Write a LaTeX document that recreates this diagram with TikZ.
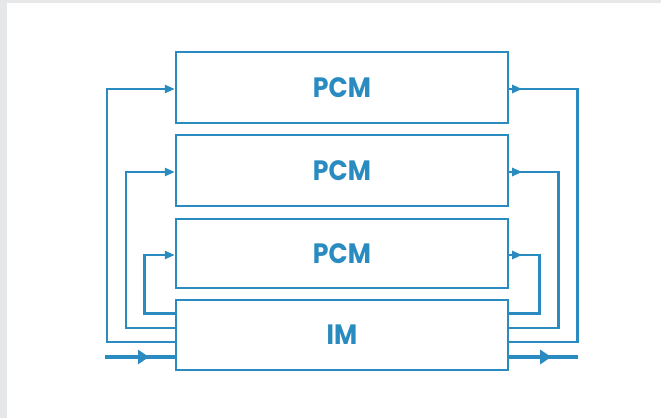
\documentclass[tikz,border=0pt]{standalone}
\usepackage{fontspec}
\setmainfont{Poppins}
\newfontfamily\labelfont[FakeStretch=0.9]{Poppins}
\usetikzlibrary{arrows.meta,decorations.markings,calc}
\definecolor{wire}{HTML}{2A8BC0}
\definecolor{frame}{HTML}{E6E7E9}
\tikzset{
  x=1pt, y=-1pt,
  unit/.style={draw=wire, line width=2.4pt, minimum width=332pt, inner sep=0pt,
    font=\labelfont\fontsize{28}{32}\selectfont\bfseries, text=wire},
  feed/.style={draw=wire, line width=2.4pt, line join=miter},
  intoarrow/.style={-{Triangle[length=10pt,width=8pt]}},
  outmark/.style={postaction={decorate}, decoration={markings,
    mark=at position 13pt with {\arrow{Triangle[length=10pt,width=8pt]}}}},
  bus/.style={draw=wire, line width=4pt, postaction={decorate},
    decoration={markings, mark=at position #1 with {\arrow{Triangle[length=11pt,width=14pt]}}}},
}
\begin{document}
\begin{tikzpicture}
% page frame
\fill[frame] (0,0) rectangle (661,418);
\fill[white] (7,3) rectangle (661,418);
\useasboundingbox (0,0) rectangle (661,418);

% stacked modules
\node[unit, minimum height=71pt, text depth=-3pt] (p1) at (342,87.5) {PCM};
\node[unit, minimum height=71pt, text depth=-3pt] (p2) at (342,170.5) {PCM};
\node[unit, minimum height=69pt, text depth=-3pt] (p3) at (342,253.5) {PCM};
\node[unit, minimum height=70pt, text depth=-1pt] (im) at (342,335) {IM};

% tap points on the IM box
\coordinate (la) at (im.west |- 0,341.7);
\coordinate (lb) at (im.west |- 0,328);
\coordinate (lc) at (im.west |- 0,313.3);
\coordinate (ra) at (im.east |- 0,341.7);
\coordinate (rb) at (im.east |- 0,328);
\coordinate (rc) at (im.east |- 0,313.3);
\coordinate (in) at (105,357);
\coordinate (out) at (578,357);

% feedback loops on the left
\draw[feed, intoarrow] (la) -| (106.7,89) -- (p1.west |- 0,89);
\draw[feed, intoarrow] (lb) -| (125.7,172) -- (p2.west |- 0,172);
\draw[feed, intoarrow] (lc) -| (144.3,255) -- (p3.west |- 0,255);

% feedback loops on the right
\draw[feed, outmark] (p1.east |- 0,89) -- (577.3,89) |- (ra);
\draw[feed, outmark] (p2.east |- 0,172) -- (558.3,172) |- (rb);
\draw[feed, outmark] (p3.east |- 0,255) -- (539.3,255) |- (rc);

% main input and output
\draw[bus=44pt] (in) -- (im.west |- in);
\draw[bus=42pt] (im.east |- out) -- (out);
\end{tikzpicture}
\end{document}
